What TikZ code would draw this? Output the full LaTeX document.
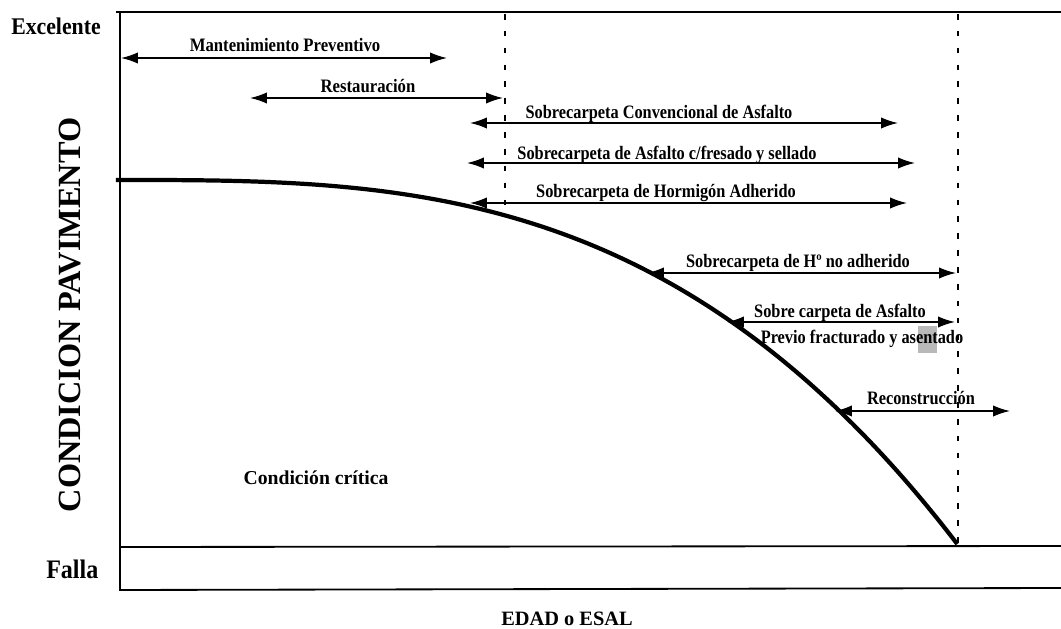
\documentclass[tikz,border=0pt]{standalone}
\usepackage{fontspec}
\setmainfont{Liberation Serif}
\usetikzlibrary{arrows.meta}
% horizontally condensed text
\newcommand\hsq[2]{\scalebox{#1}[1]{#2}}
\begin{document}
\begin{tikzpicture}[x=0.025cm,y=-0.025cm,
  axisline/.style={line width=1.3pt,black},
  guide/.style={line width=1.1pt,dash pattern=on 4pt off 8pt},
  span/.style={line width=1.1pt,{Latex[length=12pt,width=8pt]}-{Latex[length=12pt,width=8pt]}},
  lbl/.style={font=\bfseries\fontsize{13.5}{15}\selectfont,inner sep=0pt,anchor=base},
]
\useasboundingbox (0,0) rectangle (1061,629);

% frame of the chart
\coordinate (tl) at (116,12);
\coordinate (tr) at (1061,12);
\coordinate (ax0) at (120,12);
\coordinate (ax1) at (120,591);
\coordinate (fl) at (120,547);
\coordinate (fr) at (1061,546);
\coordinate (bl) at (120,590);
\coordinate (br) at (1061,588);
\draw[axisline] (tl) -- (tr);
\draw[axisline] (ax0) -- (ax1);
\draw[axisline] (fl) -- (fr);
\draw[axisline] (bl) -- (br);

% vertical guides
\coordinate (g1a) at (505,14);
\coordinate (g1b) at (505,208);
\coordinate (g2a) at (958,14);
\coordinate (g2b) at (958,545);
\draw[guide] (g1a) -- (g1b);
\draw[guide] (g2a) -- (g2b);

% deterioration curve
\draw[line width=3pt] plot[domain=-0.005:1,samples=80,smooth] ({120+838*\x},{180+365*(abs(\x))^3});

% axis titles
\node[font=\bfseries\fontsize{17}{19}\selectfont,inner sep=0pt,anchor=base west] (exc) at (11,35) {\hsq{0.91}{Excelente}};
\node[font=\bfseries\fontsize{19}{21}\selectfont,inner sep=0pt,anchor=base west] (fal) at (46,578) {\hsq{0.9}{Falla}};
\node[font=\bfseries\fontsize{23}{25}\selectfont,rotate=90,inner sep=0pt] (cp) at (70,315) {CONDICION PAVIMENTO};
\node[font=\bfseries\fontsize{14.5}{16}\selectfont,inner sep=0pt,anchor=base] (edad) at (567,625) {EDAD o ESAL};
\node[font=\bfseries\fontsize{14}{16}\selectfont,inner sep=0pt,anchor=base] (crit) at (316,485) {Condición crítica};

% treatment ranges
\coordinate (a1l) at (121,58);  \coordinate (a1r) at (447,58);
\coordinate (a2l) at (250,98);  \coordinate (a2r) at (503,98);
\coordinate (a3l) at (470,123); \coordinate (a3r) at (898,123);
\coordinate (a4l) at (467,163); \coordinate (a4r) at (915,163);
\coordinate (a5l) at (470,203); \coordinate (a5r) at (907,203);
\coordinate (a6l) at (647,273); \coordinate (a6r) at (956,273);
\coordinate (a7l) at (727,322); \coordinate (a7r) at (955,322);
\coordinate (a8l) at (835,411); \coordinate (a8r) at (1010,411);
\draw[span] (a1l) -- (a1r);
\draw[span] (a2l) -- (a2r);
\draw[span] (a3l) -- (a3r);
\draw[span] (a4l) -- (a4r);
\draw[span] (a5l) -- (a5r);
\draw[span] (a6l) -- (a6r);
\draw[span] (a7l) -- (a7r);
\draw[span] (a8l) -- (a8r);

\node[lbl] (t1) at (285,52) {\hsq{0.88}{Mantenimiento Preventivo}};
\node[lbl] (t2) at (368,93) {\hsq{0.88}{Restauración}};
\node[lbl] (t3) at (659,119) {\hsq{0.86}{Sobrecarpeta Convencional de Asfalto}};
\node[lbl] (t4) at (667,160) {\hsq{0.86}{Sobrecarpeta de Asfalto c/fresado y sellado}};
\node[lbl] (t5) at (666,198) {\hsq{0.86}{Sobrecarpeta de Hormigón Adherido}};
\node[lbl] (t6) at (798,268) {\hsq{0.86}{Sobrecarpeta de Hº no adherido}};
\node[lbl] (t7) at (840,318) {\hsq{0.86}{Sobre carpeta de Asfalto}};
\fill[gray!55] (918,326) rectangle (937,353);
\node[lbl] (t7b) at (862,344) {\hsq{0.86}{Previo fracturado y asentado}};
\node[lbl] (t8) at (921,405) {\hsq{0.86}{Reconstrucción}};
\end{tikzpicture}
\end{document}
